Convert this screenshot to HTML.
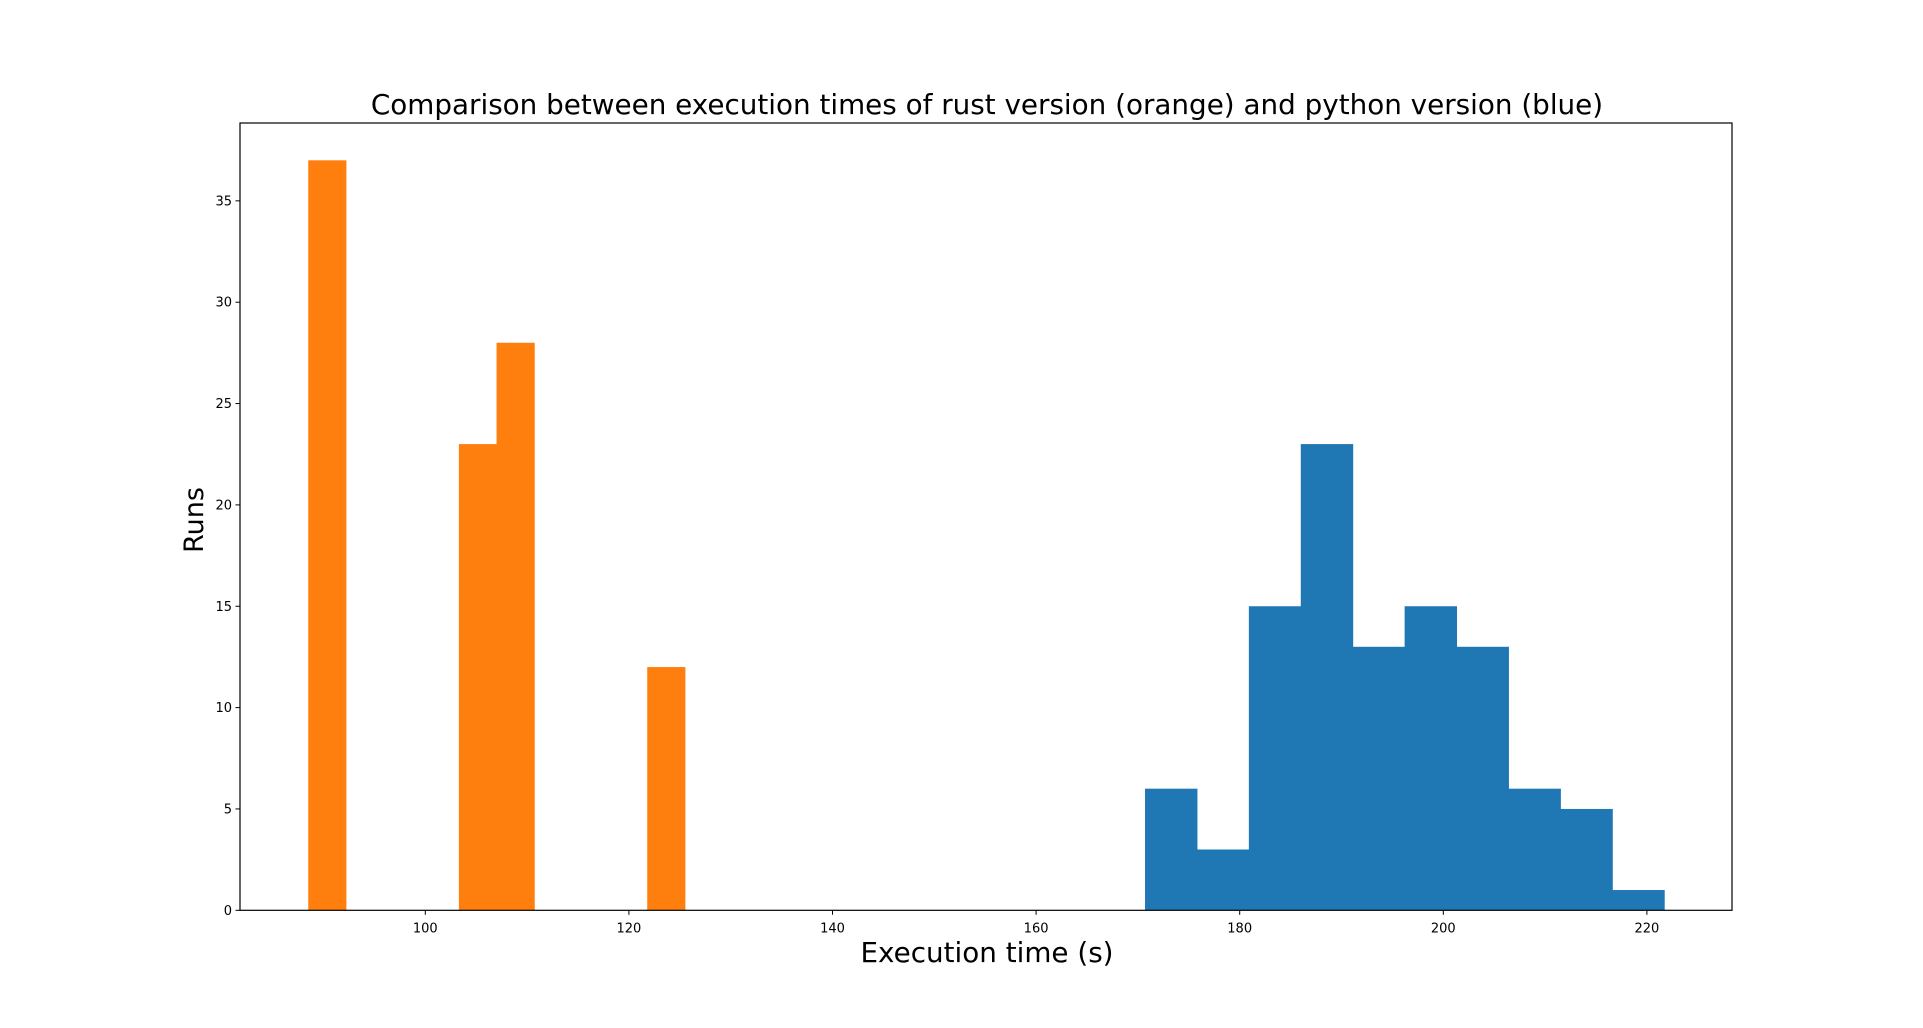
<!DOCTYPE html>
<html><head><meta charset="utf-8"><style>
body{margin:0;background:#fff;}
svg text{font-family:"DejaVu Sans","Liberation Sans",sans-serif;fill:#000;}
</style></head><body>
<svg id="chart" width="1923" height="1023" xmlns="http://www.w3.org/2000/svg">
<rect width="1923" height="1023" fill="#fff"/>
<text x="987" y="114" font-size="27.8" text-anchor="middle">Comparison between execution times of rust version (orange) and python version (blue)</text>
<text x="987" y="962" font-size="27.8" text-anchor="middle">Execution time (s)</text>
<text x="0" y="0" font-size="27" text-anchor="middle" transform="translate(203,520) rotate(-90)">Runs</text>
<g id="bars"></g>
<g id="axes"></g>
</svg>
<script>
const rustStart = 88.5;
const rustBinWidth = 3.7;
const rustCounts = [37,0,0,0,23,28,0,0,0,12];
const pyStart = 170.7;
const pyBinWidth = 5.1;
const pyCounts = [6,3,15,23,13,15,13,6,5,1];
const xTicks = [100,120,140,160,180,200,220];
const yTicks = [0,5,10,15,20,25,30,35];

const L=240,R=1732,T=123,B=910.3;
function xs(v){return 425.3+(v-100)*10.18;}
function ys(v){return B-v*20.27;}
const NS="http://www.w3.org/2000/svg";
const bars=document.getElementById('bars');
const axes=document.getElementById('axes');
function mk(tag,attrs,parent){const e=document.createElementNS(NS,tag);for(const k in attrs)e.setAttribute(k,attrs[k]);parent.appendChild(e);return e;}

rustCounts.forEach((c,i)=>{
  if(!c)return;
  const x0=xs(rustStart+i*rustBinWidth),x1=xs(rustStart+(i+1)*rustBinWidth);
  const r=mk('rect',{x:x0,y:ys(c),width:x1-x0+0.5,height:B-ys(c),fill:'#ff7f0e'},bars);
  
  
});
pyCounts.forEach((c,i)=>{
  if(!c)return;
  const x0=xs(pyStart+i*pyBinWidth),x1=xs(pyStart+(i+1)*pyBinWidth);
  const r=mk('rect',{x:x0,y:ys(c),width:x1-x0+0.5,height:B-ys(c),fill:'#1f77b4'},bars);
  
  
});

const frame=mk('rect',{x:L,y:T,width:R-L,height:B-T,fill:'none',stroke:'#000','stroke-width':1.2},axes);



xTicks.forEach(v=>{
  const x=xs(v);
  mk('line',{x1:x,x2:x,y1:B,y2:B+4.5,stroke:'#000','stroke-width':1},axes);
  const t=mk('text',{x:x,y:B+22,'font-size':13,'text-anchor':'middle'},axes);
  t.textContent=v;
  
  
});
yTicks.forEach(v=>{
  const y=ys(v);
  mk('line',{x1:L-4.5,x2:L,y1:y,y2:y,stroke:'#000','stroke-width':1},axes);
  const t=mk('text',{x:L-8,y:y+4.5,'font-size':13,'text-anchor':'end'},axes);
  t.textContent=v;
  
  
});
</script>
</body></html>
